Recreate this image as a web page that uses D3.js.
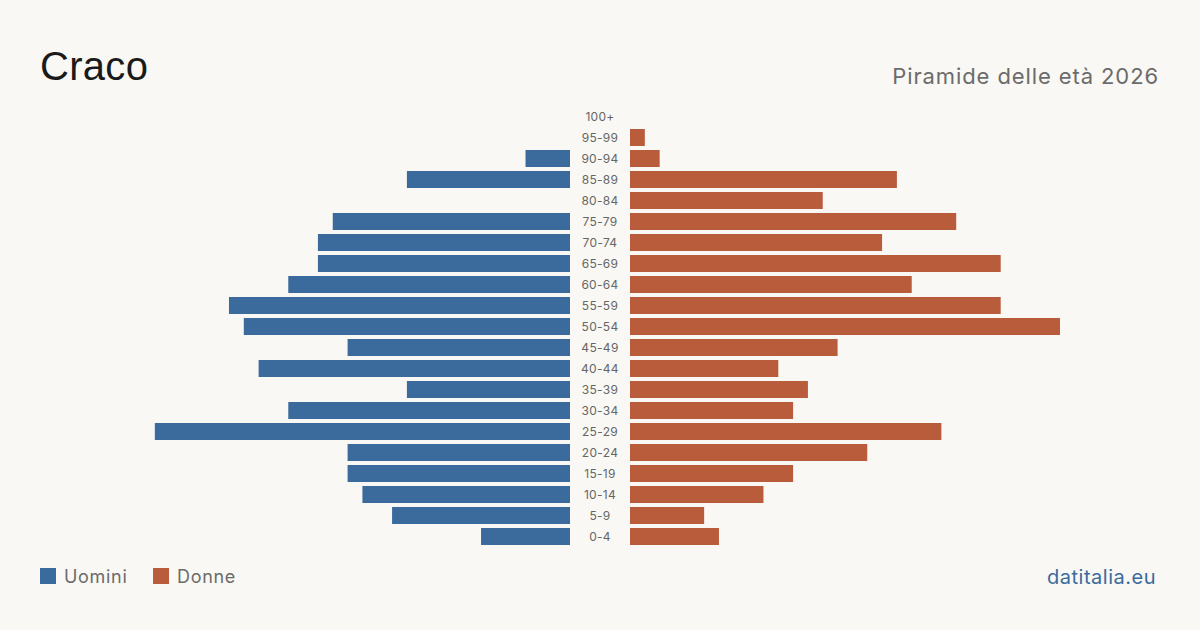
<!DOCTYPE html>
<html><head><meta charset="utf-8">
<script src="https://cdn.jsdelivr.net/npm/d3@7"></script>
<style>
html,body{margin:0;padding:0;background:#f9f8f4;}
svg{display:block;font-family:Inter,"Liberation Sans",sans-serif;}
</style></head>
<body>
<svg id="chart" width="1200" height="630"></svg>
<script>
const ageGroups = ["100+","95-99","90-94","85-89","80-84","75-79","70-74","65-69","60-64","55-59","50-54","45-49","40-44","35-39","30-34","25-29","20-24","15-19","10-14","5-9","0-4"];
const men   = [0,0,3,11,0,16,17,17,19,23,22,15,21,11,19,28,15,15,14,12,6];
const women = [0,1,2,18,13,22,17,25,19,25,29,14,10,12,11,21,16,11,9,5,6];
const legendLabels = ["Uomini","Donne"];
const colors = {men:"#3a6b9c", women:"#b95c3c"};

const svg = d3.select("#chart");
svg.append("rect").attr("width",1200).attr("height",630).attr("fill","#f9f8f4");

const maxVal = d3.max([...men,...women]);
const y = d3.scaleBand().domain(ageGroups).range([106,547]).paddingInner(0.19).paddingOuter(0.095);
const xR = d3.scaleLinear().domain([0,maxVal]).range([630,1060]);
const xL = d3.scaleLinear().domain([0,maxVal]).range([570,140]);

svg.append("g").selectAll("rect").data(ageGroups).join("rect")
  .attr("x",(d,i)=>xL(men[i])).attr("y",d=>y(d))
  .attr("width",(d,i)=>xL(0)-xL(men[i])).attr("height",y.bandwidth())
  .attr("fill",colors.men);
svg.append("g").selectAll("rect").data(ageGroups).join("rect")
  .attr("x",xR(0)).attr("y",d=>y(d))
  .attr("width",(d,i)=>xR(women[i])-xR(0)).attr("height",y.bandwidth())
  .attr("fill",colors.women);

svg.append("g").selectAll("text").data(ageGroups).join("text")
  .attr("x",600).attr("y",d=>y(d)+y.bandwidth()/2).attr("dy","0.35em")
  .attr("text-anchor","middle").attr("font-size",12).attr("fill","#666")
  .attr("letter-spacing","0.3px")
  .text(d=>d);

svg.append("text").attr("x",40).attr("y",80).attr("font-family","'Liberation Sans',Arial,sans-serif")
  .attr("font-size",40).attr("letter-spacing","0.3px").attr("fill","#1a1a1a").text("Craco");
svg.append("text").attr("x",1159).attr("y",84).attr("text-anchor","end")
  .attr("font-size",22).attr("letter-spacing","0.9px").attr("fill","#6b6b6b").text("Piramide delle età 2026");

const lg = svg.append("g");
const lx = [40,153];
legendLabels.forEach((l,i)=>{
  lg.append("rect").attr("x",lx[i]).attr("y",568).attr("width",16).attr("height",16)
    .attr("fill",i===0?colors.men:colors.women);
  lg.append("text").attr("x",lx[i]+24).attr("y",583).attr("font-size",18)
    .attr("letter-spacing","0.7px").attr("fill","#6b6b6b").text(l);
});
svg.append("text").attr("x",1156).attr("y",584).attr("text-anchor","end")
  .attr("font-size",20).attr("letter-spacing","0.5px").attr("fill","#3a6b9c").text("datitalia.eu");
</script>
</body></html>
